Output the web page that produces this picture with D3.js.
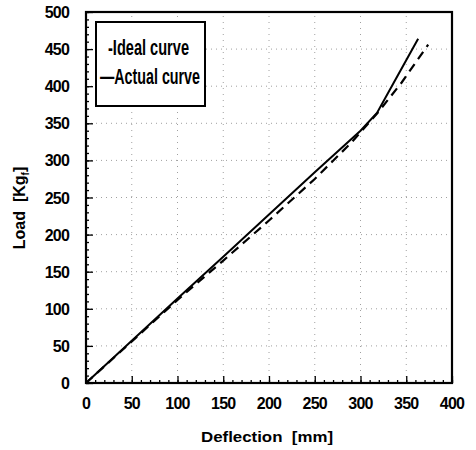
<!DOCTYPE html>
<html>
<head>
<meta charset="utf-8">
<script src="https://cdn.jsdelivr.net/npm/d3@7"></script>
<style>
   body { margin: 0; background: #fff; }
   svg text { font-family: "Liberation Sans", Arial, sans-serif; fill: #000; }
</style>
</head>
<body>
<svg id="chart" width="476" height="450"></svg>
<script>
// 실측 곡선 (Actual curve)
var actualDeflection = [0, 50, 100, 150, 200, 250, 300, 318, 336, 363];
var actualLoad = [0, 57, 114, 170, 227, 284, 340, 364, 404, 464];

// 이론 곡선 (Ideal curve)
var idealDeflection = [0, 100, 150, 200, 250, 290, 320, 345, 374];
var idealLoad = [0, 112, 165, 219, 275, 324, 366, 405, 456];

var xTicks = [0, 50, 100, 150, 200, 250, 300, 350, 400];
var yTicks = [0, 50, 100, 150, 200, 250, 300, 350, 400, 450, 500];

var legendLabels = ["-Ideal curve", "\u2014Actual curve"];

var plotLeft = 86,
   plotRight = 452,
   plotTop = 12,
   plotBottom = 383;

var svg = d3.select("svg#chart");

var x = d3.scaleLinear().domain([0, 400]).range([plotLeft, plotRight]);
var y = d3.scaleLinear().domain([0, 500]).range([plotBottom, plotTop]);

// grid (dotted)
var grid = svg.append("g");
grid
   .selectAll("line.gx")
   .data(xTicks.slice(1, -1))
   .enter()
   .append("line")
   .attr("x1", (d) => x(d))
   .attr("x2", (d) => x(d))
   .attr("y1", plotBottom)
   .attr("y2", plotTop)
   .attr("stroke", "#888")
   .attr("stroke-width", 0.8)
   .attr("stroke-dasharray", "1,5");
grid
   .selectAll("line.gy")
   .data(yTicks.slice(1, -1))
   .enter()
   .append("line")
   .attr("x1", plotLeft)
   .attr("x2", plotRight)
   .attr("y1", (d) => y(d))
   .attr("y2", (d) => y(d))
   .attr("stroke", "#888")
   .attr("stroke-width", 0.8)
   .attr("stroke-dasharray", "1,4");

// axes with inward ticks
var xAxis = d3.axisBottom(x).tickValues(xTicks).tickSize(-7).tickFormat("");
var xMinor = d3.axisBottom(x).ticks(40).tickSize(-3).tickFormat("");
var yAxis = d3.axisLeft(y).tickValues(yTicks).tickSize(-7).tickFormat("");
var yMinor = d3.axisLeft(y).ticks(50).tickSize(-3).tickFormat("");

[
   [xMinor, "translate(0," + plotBottom + ")"],
   [xAxis, "translate(0," + plotBottom + ")"],
   [yMinor, "translate(" + plotLeft + ",0)"],
   [yAxis, "translate(" + plotLeft + ",0)"],
].forEach(function (a) {
   var g = svg.append("g").attr("transform", a[1]).call(a[0]);
   g.select(".domain").remove();
   g.selectAll("line").attr("stroke", "#000").attr("stroke-width", 1.3);
});

// tick labels
svg
   .selectAll("text.xl")
   .data(xTicks)
   .enter()
   .append("text")
   .attr("x", (d) => x(d))
   .attr("y", 409)
   .attr("text-anchor", "middle")
   .attr("font-size", 16)
   .attr("font-weight", "bold")
   .attr("letter-spacing", -0.8)
   .text((d) => d);

svg
   .selectAll("text.yl")
   .data(yTicks)
   .enter()
   .append("text")
   .attr("x", 69)
   .attr("y", (d) => y(d) + 6)
   .attr("text-anchor", "end")
   .attr("font-size", 16)
   .attr("font-weight", "bold")
   .attr("letter-spacing", -0.8)
   .text((d) => d);

// frame
svg
   .append("rect")
   .attr("x", plotLeft)
   .attr("y", plotTop)
   .attr("width", plotRight - plotLeft)
   .attr("height", plotBottom - plotTop)
   .attr("fill", "none")
   .attr("stroke", "#000")
   .attr("stroke-width", 2.2);

// curves
var line = d3
   .line()
   .x((d) => x(d[0]))
   .y((d) => y(d[1]));

svg
   .append("path")
   .datum(d3.zip(idealDeflection, idealLoad))
   .attr("d", line)
   .attr("fill", "none")
   .attr("stroke", "#000")
   .attr("stroke-width", 2.2)
   .attr("stroke-dasharray", "9,6");

svg
   .append("path")
   .datum(d3.zip(actualDeflection, actualLoad))
   .attr("d", line)
   .attr("fill", "none")
   .attr("stroke", "#000")
   .attr("stroke-width", 2);

// legend
svg
   .append("rect")
   .attr("x", 96)
   .attr("y", 22)
   .attr("width", 109)
   .attr("height", 84)
   .attr("fill", "#fff")
   .attr("stroke", "#000")
   .attr("stroke-width", 2);

svg
   .selectAll("text.leg")
   .data(legendLabels)
   .enter()
   .append("text")
   .attr("x", (d, i) => (i === 0 ? 108 : 100))
   .attr("y", (d, i) => (i === 0 ? 55 : 84))
   .attr("font-size", 22)
   .attr("font-weight", "bold")
   .attr("textLength", (d, i) => (i === 0 ? 81 : 100))
   .attr("lengthAdjust", "spacingAndGlyphs")
   .text((d) => d);

// axis titles
svg
   .append("text")
   .attr("x", 267)
   .attr("y", 442)
   .attr("text-anchor", "middle")
   .attr("font-size", 15)
   .attr("font-weight", "bold")
   .attr("textLength", 132)
   .attr("lengthAdjust", "spacingAndGlyphs")
   .attr("xml:space", "preserve")
   .text("Deflection  [mm]");

var yTitle = svg
   .append("text")
   .attr("transform", "translate(25,208) rotate(-90)")
   .attr("text-anchor", "middle")
   .attr("font-size", 16)
   .attr("font-weight", "bold")
   .attr("xml:space", "preserve");
yTitle.append("tspan").text("Load  [Kg");
yTitle.append("tspan").attr("font-size", 10).attr("dy", 4).text("f");
yTitle.append("tspan").attr("dy", -4).text("]");
</script>
</body>
</html>
